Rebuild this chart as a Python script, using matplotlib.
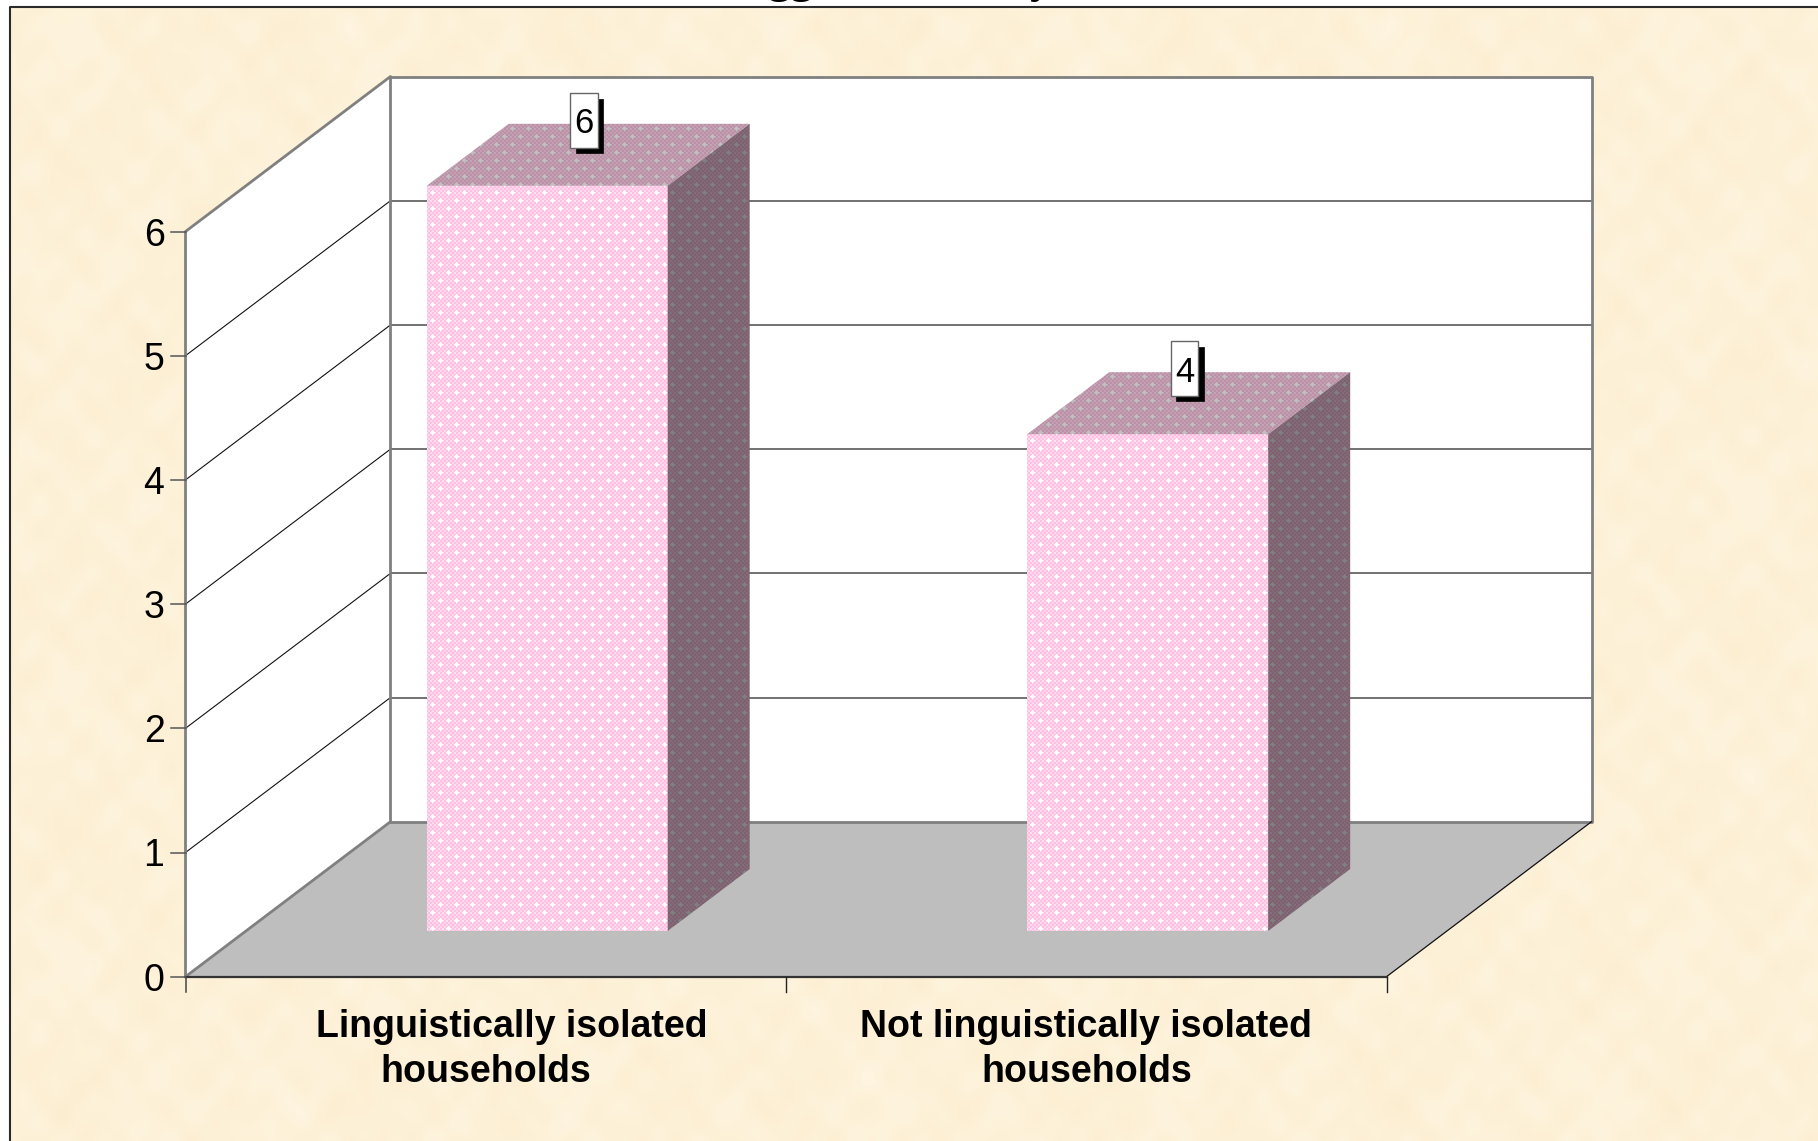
import numpy as np
import matplotlib
matplotlib.use('Agg')
import matplotlib.pyplot as plt
from matplotlib.patches import Polygon, Rectangle

# Chart values
categories = [['Linguistically isolated', 'households'], ['Not linguistically isolated', 'households']]
values = [6, 4]
y_ticks = [0, 1, 2, 3, 4, 5, 6]
# only the bottoms of these title letters are left in the picture, the rest is cut off
title_bits = [('gg', 791), ('y', 1041)]

W, H = 1818, 1141

# pseudo 3D frame, everything is in image pixels
x0, x1 = 185.5, 1386.5     # front floor edge
y0 = 976.7
unit = 124.2
dx, dy = 205, -155         # wall depth
bar_dx, bar_dy = 82, -62   # bar depth
bar_floor = 931.0
bar_w = 241
cat_w = (x1 - x0) / len(values)


def front_y(v):
    return y0 - v * unit


def bar_left(i):
    # bars stand part way back on the floor, so they slide along the depth direction
    depth = (y0 - bar_floor) / -dy * dx
    return x0 + cat_w * i + (cat_w - bar_w) / 2 + depth + 1


def parchment():
    # mottled paper made of a few sine waves
    yy, xx = np.mgrid[0:H, 0:W]
    n = np.zeros((H, W))
    for fx, fy, ph, a in [(0.019, 0.027, 0.3, 0.6), (0.043, 0.021, 1.7, 0.7), (0.071, 0.067, 2.9, 0.8),
                          (0.117, 0.093, 0.9, 0.7), (0.167, 0.143, 4.1, 0.5), (0.061, 0.131, 5.3, 0.6),
                          (0.193, 0.059, 3.3, 0.4)]:
        n += a * np.sin(fx * xx + ph) * np.sin(fy * yy + 2 * ph)
    n = n / np.abs(n).max()
    img = np.zeros((H, W, 3))
    img[..., 0] = 253 + 1.5 * n
    img[..., 1] = 241 + 4 * n
    img[..., 2] = 216 + 9 * n
    return np.clip(img, 0, 255) / 255


def dither():
    # pink checker with staggered white dots, same tile for all three faces
    yy, xx = np.mgrid[0:H, 0:W]
    check = (xx // 2 + yy // 2) % 2
    img = np.zeros((H, W, 3))
    img[..., 0] = 1.0
    img[..., 1] = 0.75 + 0.10 * check
    img[..., 2] = 0.88 + 0.05 * check
    # lighter bands through the dot rows
    band = (yy % 8 < 2) & (check == 1)
    img[band] = (1.0, 0.88, 0.95)
    a = (np.abs((xx % 16) - 8) + np.abs((yy % 16) - 8) <= 2)
    b = (np.abs(((xx + 8) % 16) - 8) + np.abs(((yy + 8) % 16) - 8) <= 2)
    img[a | b] = 1.0
    return img


fig = plt.figure(figsize=(W / 100, H / 100), dpi=100, facecolor='white')
ax = fig.add_axes([0, 0, 1, 1])
ax.set_xlim(0, W)
ax.set_ylim(H, 0)
ax.axis('off')
plt.rcParams['font.family'] = ['Liberation Sans', 'DejaVu Sans']

# paper background inside the slide border
paper = ax.imshow(parchment(), extent=(0, W, H, 0), zorder=0, aspect='auto', interpolation='nearest')
paper.set_clip_path(Rectangle((10, 7), W, H, transform=ax.transData))
ax.set_xlim(0, W)
ax.set_ylim(H, 0)
ax.plot([9.5, 9.5, W], [H, 6.5, 6.5], color='#2b2b2b', lw=1.5, zorder=1)

# title remains
for bit, bx in title_bits:
    ax.text(bx, -8.5, bit, fontsize=33, fontweight='bold', family='Liberation Serif', ha='center', va='baseline', zorder=1)

# walls and floor
top = y_ticks[-1]
ax.add_patch(Polygon([(x0, front_y(0)), (x0 + dx, front_y(0) + dy), (x0 + dx, front_y(top) + dy), (x0, front_y(top))],
                     fc='white', ec='none', zorder=2))
ax.add_patch(Polygon([(x0 + dx, front_y(0) + dy), (x1 + dx, front_y(0) + dy), (x1 + dx, front_y(top) + dy), (x0 + dx, front_y(top) + dy)],
                     fc='white', ec='none', zorder=2))
ax.add_patch(Polygon([(x0, y0), (x1, y0), (x1 + dx, y0 + dy), (x0 + dx, y0 + dy)], fc='#bebebe', ec='none', zorder=2))

# gridlines
for v in y_ticks[1:-1]:
    ax.plot([x0, x0 + dx], [front_y(v), front_y(v) + dy], color='#111111', lw=0.8, zorder=3)
    ax.plot([x0 + dx, x1 + dx], [front_y(v) + dy, front_y(v) + dy], color='#666666', lw=1.3, zorder=3)

# wall outlines
gray = '#808080'
ax.plot([x0, x0, x0 + dx, x0 + dx], [y0, front_y(top), front_y(top) + dy, y0 + dy], color=gray, lw=2, zorder=3)
ax.plot([x0 + dx, x1 + dx, x1 + dx, x0 + dx], [front_y(top) + dy, front_y(top) + dy, y0 + dy, y0 + dy], color=gray, lw=2, zorder=3)
ax.plot([x0, x0 + dx], [y0, y0 + dy], color=gray, lw=2, zorder=3)
ax.plot([x1, x1 + dx], [y0, y0 + dy], color='#111111', lw=0.9, zorder=3)
ax.plot([x0, x1], [y0, y0], color='#333333', lw=1.6, zorder=3)

# ticks and tick labels
for v in y_ticks:
    ax.plot([x0 - 15, x0], [front_y(v), front_y(v)], color='#555555', lw=1.1, zorder=3)
    ax.text(x0 - 21, front_y(v), str(v), fontsize=27, ha='right', va='center_baseline', zorder=3)
ax.plot([x0, x0], [y0, y0 + 15], color='#444444', lw=1.1, zorder=3)
for i in range(1, len(values) + 1):
    ax.plot([x0 + cat_w * i] * 2, [y0, y0 + 15], color='#222222', lw=1.0, zorder=3)

# bars, one texture clipped to each face
tex = dither()
for i, v in enumerate(values):
    bl = bar_left(i)
    br = bl + bar_w
    bt = bar_floor - v * unit
    faces = [
        ([(bl, bt), (br, bt), (br, bar_floor), (bl, bar_floor)], 1.0),
        ([(bl, bt), (br, bt), (br + bar_dx, bt + bar_dy), (bl + bar_dx, bt + bar_dy)], 0.75),
        ([(br, bt), (br + bar_dx, bt + bar_dy), (br + bar_dx, bar_floor + bar_dy), (br, bar_floor)], 0.5),
    ]
    for pts, shade in faces:
        im = ax.imshow(tex * shade, extent=(0, W, H, 0), zorder=4, aspect='auto', interpolation='nearest')
        im.set_clip_path(Polygon(pts, transform=ax.transData))

    # data label box with hard shadow
    cx = bl + bar_w / 2 + 37
    cy = bt + bar_dy - 3.5
    bw, bh = 27.5, 54.5
    ax.add_patch(Rectangle((cx - bw / 2 + 5.5, cy - bh / 2 + 5.5), bw, bh, fc='black', ec='black', lw=0.5, zorder=5))
    ax.add_patch(Rectangle((cx - bw / 2, cy - bh / 2), bw, bh, fc='white', ec='#666666', lw=1.0, zorder=6))
    ax.text(cx, cy, str(v), fontsize=25, ha='center', va='center_baseline', zorder=7)

ax.set_xlim(0, W)
ax.set_ylim(H, 0)

# category labels, first line of the first label sits off centre in the original
line_shift = [[26, 0], [0, 0]]
for i, lines in enumerate(categories):
    cx = x0 + cat_w * (i + 0.5)
    for j, line in enumerate(lines):
        ax.text(cx + line_shift[i][j], 1023 + 45 * j, line, fontsize=27, fontweight='bold', ha='center', va='center_baseline', zorder=3)

fig.savefig('out.png', dpi=100, facecolor='white')
